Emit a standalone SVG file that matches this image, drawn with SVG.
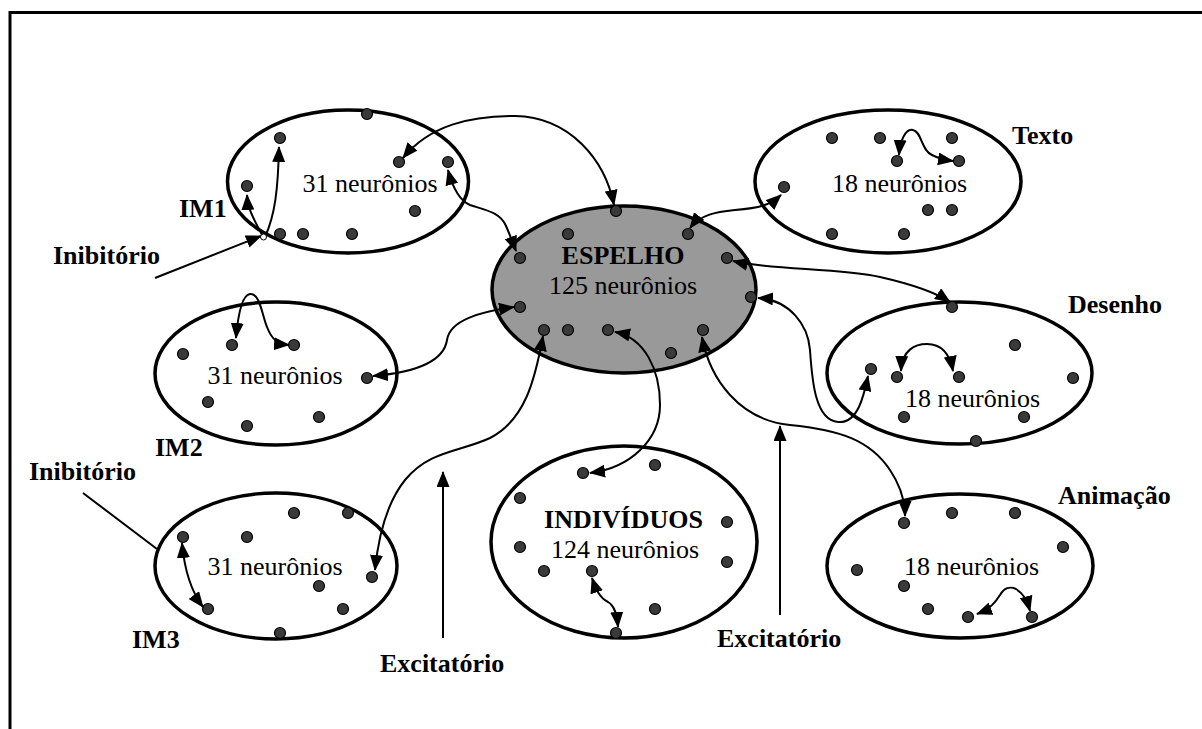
<svg xmlns="http://www.w3.org/2000/svg" width="1202" height="729" viewBox="0 0 1202 729">
  <style>
    .pool { fill: #ffffff; stroke: #000; stroke-width: 3.5; }
    .mirror { fill: #999999; stroke: #000; stroke-width: 3.5; }
    .n { fill: #3a3a3a; stroke: #000; stroke-width: 1.2; }
    .cnt { font-family: "Liberation Serif", "Times New Roman", serif; font-size: 26px; fill: #000; text-anchor: middle; }
    .lbl { font-family: "Liberation Serif", "Times New Roman", serif; font-size: 26px; font-weight: bold; fill: #000; }
    .c { fill: none; stroke: #000; stroke-width: 2; }
    .bi { marker-start: url(#head); marker-end: url(#head); }
    .uni { marker-end: url(#head); }
  </style>
  <defs>
    <marker id="head" viewBox="0 0 16 13" refX="15" refY="6.5" markerWidth="16" markerHeight="13" markerUnits="userSpaceOnUse" orient="auto-start-reverse">
      <path d="M0,0 L16,6.5 L0,13 Z" fill="#000"/>
    </marker>
  </defs>

  <rect width="1202" height="729" fill="#ffffff"/>
  <!-- frame -->
  <path d="M10,729 L10,12.5 L1202,12.5" fill="none" stroke="#000" stroke-width="3"/>

  <g id="im1">
    <ellipse class="pool" cx="348" cy="181.5" rx="120.5" ry="71.5"/>
    <circle class="n" cx="367" cy="114" r="5.5"/>
    <circle class="n" cx="280" cy="138" r="5.5"/>
    <circle class="n" cx="399" cy="162" r="5.5"/>
    <circle class="n" cx="448" cy="162" r="5.5"/>
    <circle class="n" cx="247" cy="186" r="5.5"/>
    <circle class="n" cx="415" cy="211" r="5.5"/>
    <circle class="n" cx="280" cy="234" r="5.5"/>
    <circle class="n" cx="303" cy="234" r="5.5"/>
    <circle class="n" cx="352" cy="234" r="5.5"/>
    <text class="cnt" x="370" y="192">31 neurônios</text>
    <text class="lbl" x="179" y="217">IM1</text>
  </g>

  <g id="espelho">
    <ellipse class="mirror" cx="624" cy="289.5" rx="132" ry="83.5"/>
    <circle class="n" cx="616" cy="211" r="5.5"/>
    <circle class="n" cx="568" cy="234" r="5.5"/>
    <circle class="n" cx="688" cy="234" r="5.5"/>
    <circle class="n" cx="520" cy="258" r="5.5"/>
    <circle class="n" cx="727" cy="258" r="5.5"/>
    <circle class="n" cx="520" cy="307" r="5.5"/>
    <circle class="n" cx="751" cy="297" r="5.5"/>
    <circle class="n" cx="544" cy="330" r="5.5"/>
    <circle class="n" cx="568" cy="330" r="5.5"/>
    <circle class="n" cx="608" cy="330" r="5.5"/>
    <circle class="n" cx="703" cy="330" r="5.5"/>
    <circle class="n" cx="671" cy="353" r="5.5"/>
    <text class="cnt" x="623" y="264" font-weight="bold">ESPELHO</text>
    <text class="cnt" x="623" y="294">125 neurônios</text>
  </g>

  <g id="texto">
    <ellipse class="pool" cx="888" cy="181.5" rx="133" ry="71.5"/>
    <circle class="n" cx="832" cy="138" r="5.5"/>
    <circle class="n" cx="880" cy="138" r="5.5"/>
    <circle class="n" cx="952" cy="138" r="5.5"/>
    <circle class="n" cx="897" cy="161" r="5.5"/>
    <circle class="n" cx="959" cy="161" r="5.5"/>
    <circle class="n" cx="784" cy="187" r="5.5"/>
    <circle class="n" cx="928" cy="210" r="5.5"/>
    <circle class="n" cx="952" cy="210" r="5.5"/>
    <circle class="n" cx="832" cy="234" r="5.5"/>
    <circle class="n" cx="904" cy="234" r="5.5"/>
    <text class="cnt" x="899.5" y="192">18 neurônios</text>
    <text class="lbl" x="1012" y="144">Texto</text>
  </g>

  <g id="desenho">
    <ellipse class="pool" cx="959.5" cy="373" rx="132.5" ry="71"/>
    <circle class="n" cx="952" cy="307" r="5.5"/>
    <circle class="n" cx="1015" cy="345" r="5.5"/>
    <circle class="n" cx="871" cy="369" r="5.5"/>
    <circle class="n" cx="897" cy="377" r="5.5"/>
    <circle class="n" cx="959" cy="377" r="5.5"/>
    <circle class="n" cx="1073" cy="378" r="5.5"/>
    <circle class="n" cx="904" cy="417" r="5.5"/>
    <circle class="n" cx="1024" cy="417" r="5.5"/>
    <circle class="n" cx="976" cy="441" r="5.5"/>
    <text class="cnt" x="972.5" y="407">18 neurônios</text>
    <text class="lbl" x="1068" y="313">Desenho</text>
  </g>

  <g id="im2">
    <ellipse class="pool" cx="276" cy="373.5" rx="121" ry="71.5"/>
    <circle class="n" cx="232" cy="345" r="5.5"/>
    <circle class="n" cx="294" cy="345" r="5.5"/>
    <circle class="n" cx="183" cy="354" r="5.5"/>
    <circle class="n" cx="367" cy="378" r="5.5"/>
    <circle class="n" cx="208" cy="402" r="5.5"/>
    <circle class="n" cx="319" cy="417" r="5.5"/>
    <circle class="n" cx="247" cy="426" r="5.5"/>
    <text class="cnt" x="275" y="384">31 neurônios</text>
    <text class="lbl" x="155" y="456">IM2</text>
  </g>

  <g id="im3">
    <ellipse class="pool" cx="276" cy="566" rx="121" ry="73"/>
    <circle class="n" cx="294" cy="513" r="5.5"/>
    <circle class="n" cx="348" cy="513" r="5.5"/>
    <circle class="n" cx="183" cy="537" r="5.5"/>
    <circle class="n" cx="247" cy="537" r="5.5"/>
    <circle class="n" cx="319" cy="586" r="5.5"/>
    <circle class="n" cx="372" cy="577" r="5.5"/>
    <circle class="n" cx="208" cy="609" r="5.5"/>
    <circle class="n" cx="343" cy="609" r="5.5"/>
    <circle class="n" cx="280" cy="633" r="5.5"/>
    <text class="cnt" x="275" y="575">31 neurônios</text>
    <text class="lbl" x="132" y="648">IM3</text>
  </g>

  <g id="individuos">
    <ellipse class="pool" cx="624" cy="542" rx="133" ry="96"/>
    <circle class="n" cx="583" cy="473" r="5.5"/>
    <circle class="n" cx="655" cy="465" r="5.5"/>
    <circle class="n" cx="520" cy="498" r="5.5"/>
    <circle class="n" cx="727" cy="522" r="5.5"/>
    <circle class="n" cx="520" cy="547" r="5.5"/>
    <circle class="n" cx="727" cy="562" r="5.5"/>
    <circle class="n" cx="544" cy="571" r="5.5"/>
    <circle class="n" cx="592" cy="571" r="5.5"/>
    <circle class="n" cx="655" cy="609" r="5.5"/>
    <circle class="n" cx="616" cy="633" r="5.5"/>
    <text class="cnt" x="623.5" y="528" font-weight="bold">INDIVÍDUOS</text>
    <text class="cnt" x="625" y="558">124 neurônios</text>
  </g>

  <g id="animacao">
    <ellipse class="pool" cx="960" cy="566" rx="133" ry="72"/>
    <circle class="n" cx="904" cy="523" r="5.5"/>
    <circle class="n" cx="952" cy="513" r="5.5"/>
    <circle class="n" cx="1015" cy="513" r="5.5"/>
    <circle class="n" cx="1063" cy="547" r="5.5"/>
    <circle class="n" cx="857" cy="570" r="5.5"/>
    <circle class="n" cx="904" cy="586" r="5.5"/>
    <circle class="n" cx="928" cy="609" r="5.5"/>
    <circle class="n" cx="968" cy="617" r="5.5"/>
    <circle class="n" cx="1032" cy="617" r="5.5"/>
    <text class="cnt" x="971.5" y="575">18 neurônios</text>
    <text class="lbl" x="1058" y="504">Animação</text>
  </g>

  <g id="legend">
    <text class="lbl" x="53" y="264">Inibitório</text>
    <text class="lbl" x="29" y="480">Inibitório</text>
    <text class="lbl" x="380" y="672">Excitatório</text>
    <text class="lbl" x="717" y="647">Excitatório</text>
  </g>

  <g id="connectors">
    <!-- inhibitory input into IM1 and its two branches -->
    <path class="c uni" d="M155,278 L261,236"/>
    <path class="c uni" d="M263,237 C256,222 248,212 247,195"/>
    <path class="c uni" d="M265,237 C275,215 278,190 279,147"/>
    <circle cx="263.5" cy="237" r="3" fill="#fff" stroke="#000" stroke-width="1"/>
    <!-- inhibitory line to IM3 -->
    <path class="c" d="M83,493 L157,549"/>
    <!-- excitatory inputs -->
    <path class="c uni" d="M443,638 L443,472"/>
    <path class="c uni" d="M780,615 L780,426"/>

    <!-- pools <-> ESPELHO -->
    <path class="c bi" d="M403,158 C430,125 470,116 515,116 C570,117 605,160 614,205"/>
    <path class="c bi" d="M448,170 C452,185 458,200 470,205 C485,210 500,212 506,226 C510,235 513,243 516,251"/>
    <path class="c bi" d="M690,228 C700,215 715,212 735,210 C760,208 770,205 781,195"/>
    <path class="c bi" d="M733,261 C770,270 840,268 880,277 C915,285 935,292 950,302"/>
    <path class="c bi" d="M758,298 C790,300 808,325 810,350 C812,380 815,420 838,422 C858,424 864,395 868,376"/>
    <path class="c bi" d="M702,337 C710,380 740,420 790,425 C840,430 870,440 890,470 C900,485 905,500 905,516"/>
    <path class="c bi" d="M615,332 C645,338 660,370 660,405 C660,440 630,468 590,473"/>
    <path class="c bi" d="M543,336 C535,380 525,420 490,438 C460,452 430,450 405,480 C385,505 378,540 375,570"/>
    <path class="c bi" d="M514,307 C480,312 450,320 447,340 C444,360 420,372 373,376"/>

    <!-- links inside pools -->
    <path class="c bi" d="M899,155 C900,142 905,128 913,130 C922,132 921,150 932,155 C940,159 946,160 953,161"/>
    <path class="c bi" d="M901,371 C902,350 915,344 927,344 C942,344 950,355 953,371"/>
    <path class="c bi" d="M977,614 C990,609 995,603 1000,595 C1004,588 1010,586 1016,589 C1024,594 1027,600 1030,611"/>
    <path class="c bi" d="M592,578 C596,590 600,598 608,602 C615,606 617,615 618,627"/>
    <path class="c bi" d="M236,338 C238,315 242,295 250,294 C260,293 262,315 267,327 C272,340 278,344 289,345"/>
    <path class="c bi" d="M182,543 C184,565 190,590 203,607"/>
  </g>
</svg>
